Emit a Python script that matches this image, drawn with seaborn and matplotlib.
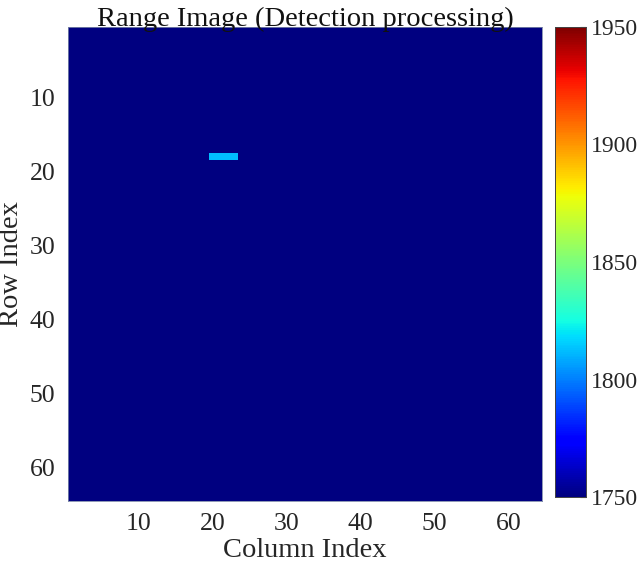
import numpy as np
import pandas as pd
import matplotlib
matplotlib.use('Agg')
import matplotlib.pyplot as plt
import seaborn as sns

# datos de la imagen de rango
n_filas = 64
n_columnas = 64
valor_fondo = 1750
fila_objetivo = 18
columnas_objetivo = [20, 21, 22, 23]
valor_objetivo = 1812
rango_color = [1750, 1950]
ticks_ejes = [10, 20, 30, 40, 50, 60]
ticks_barra = [1750, 1800, 1850, 1900, 1950]

imagen = np.full((n_filas, n_columnas), float(valor_fondo))
for c in columnas_objetivo:
    imagen[fila_objetivo - 1, c - 1] = valor_objetivo

data_frame_imagen = pd.DataFrame(imagen,
                                 index=range(1, n_filas + 1),
                                 columns=range(1, n_columnas + 1))

sns.set_style('white')
plt.rcParams['font.family'] = ['Liberation Serif', 'DejaVu Serif']

fig = plt.figure(figsize=(6.39, 5.68), dpi=100)
ax = fig.add_axes([68 / 639, 1 - 501 / 568, 474 / 639, 474 / 568])
cax = fig.add_axes([555 / 639, 1 - 497 / 568, 31 / 639, 470 / 568])

sns.heatmap(data_frame_imagen, ax=ax, cbar_ax=cax, cmap='jet',
            vmin=rango_color[0], vmax=rango_color[1],
            xticklabels=False, yticklabels=False)

ax.set_xticks([t - 0.5 for t in ticks_ejes])
ax.set_xticklabels(ticks_ejes)
ax.set_yticks([t - 0.5 for t in ticks_ejes])
ax.set_yticklabels(ticks_ejes, rotation=0)
ax.tick_params(direction='in', length=4, color='#7a86a8', labelsize=18.5,
               labelcolor='#262626', pad=9)
for s in ax.spines.values():
    s.set_visible(True)
    s.set_color('#7a86a8')
    s.set_linewidth(0.6)

ax.set_xlabel('Column Index', fontsize=20.5, color='#262626', labelpad=2)
ax.set_ylabel('Row Index', fontsize=20.5, color='#262626', labelpad=4)
ax.set_title('Range Image (Detection processing)', fontsize=20.5,
             color='#111111', pad=1)

cax.set_yticks(ticks_barra)
cax.tick_params(direction='in', length=4, labelsize=17, labelcolor='#262626',
                pad=3.5)
for s in cax.spines.values():
    s.set_visible(True)
    s.set_color('#444444')
    s.set_linewidth(0.6)

fig.savefig('out.png', dpi=100)
